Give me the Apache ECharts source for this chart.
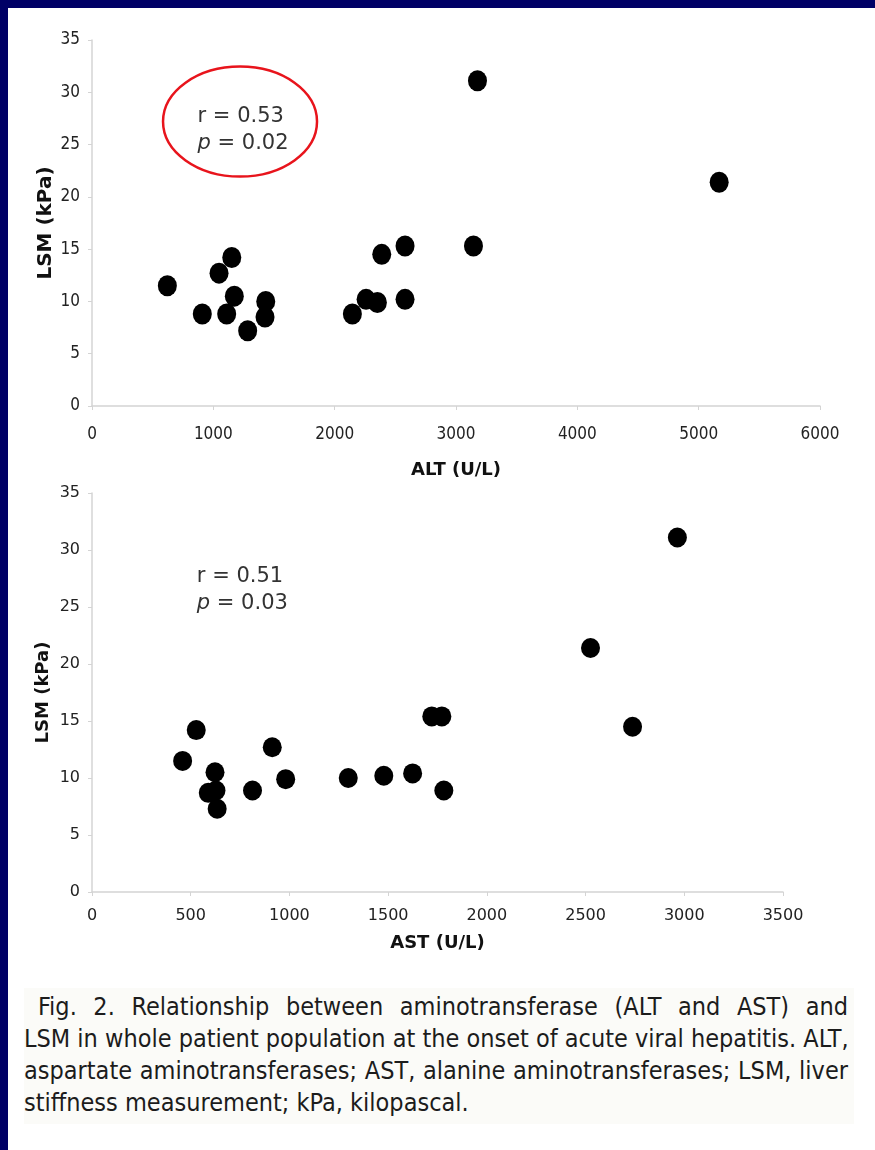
<!DOCTYPE html>
<html>
<head>
<meta charset="utf-8">
<script src="https://cdn.jsdelivr.net/npm/echarts@6/dist/echarts.min.js"></script>
<style>
  html, body { margin: 0; padding: 0; }
  body { width: 875px; height: 1150px; background: #000066; position: relative; overflow: hidden; }
  #chart { position: absolute; left: 8px; top: 8px; width: 867px; height: 1142px; background: #fff; }
  #captionBox { position: absolute; left: 24px; top: 988px; width: 830px; height: 136px; background: #fbfbf8; }
  #caption {
    position: absolute; left: 24px; top: 991px; width: 824px;
    font-family: "Liberation Sans Narrow", "DejaVu Sans Condensed", sans-serif;
    font-size: 25px; line-height: 32px; color: #1c1c1c;
  }
  #caption div { text-align: justify; text-align-last: justify; white-space: nowrap; }
  #caption div.last { text-align-last: left; }
  #caption div.first { padding-left: 14px; }
</style>
</head>
<body>
<div id="chart"></div>
<div id="captionBox"></div>
<div id="caption">
  <div class="first">Fig. 2. Relationship between aminotransferase (ALT and AST) and</div>
  <div>LSM in whole patient population at the onset of acute viral hepatitis. ALT,</div>
  <div>aspartate aminotransferases; AST, alanine aminotransferases; LSM, liver</div>
  <div class="last">stiffness measurement; kPa, kilopascal.</div>
</div>
<script>
// ALT vs LSM (top panel)
const altValues = [621, 909, 1047, 1152, 1110, 1173, 1283, 1432, 1426, 2146, 2259, 2352, 2388, 2580, 2580, 3177, 3144, 5169];
const altLsm    = [11.5, 8.8, 12.7, 14.2, 8.8, 10.5, 7.2, 10.0, 8.5, 8.8, 10.2, 9.9, 14.5, 15.3, 10.2, 31.1, 15.3, 21.4];

// AST vs LSM (bottom panel)
const astValues = [459, 528, 623, 589, 628, 634, 813, 913, 981, 1298, 1478, 1624, 1721, 1772, 1782, 2525, 2738, 2965];
const astLsm    = [11.5, 14.2, 10.5, 8.7, 8.9, 7.3, 8.9, 12.7, 9.9, 10.0, 10.2, 10.4, 15.4, 15.4, 8.9, 21.4, 14.5, 31.1];

const altStats = ['r = 0.53', '0.02'];
const astStats = ['r = 0.51', '0.03'];

let chart = echarts.init(document.getElementById('chart'));

const labelFont = 'DejaVu Sans';
// top panel is a bit stretched vertically in the figure, so use a narrower face there
const topTickStyle = { fontFamily: 'DejaVu Sans Condensed', fontSize: 17, color: '#222' };
const botTickStyle = { fontFamily: labelFont, fontSize: 16, color: '#222' };

function yAxisOpt(gridIndex, fontSize, gap, tick) {
    return {
        gridIndex: gridIndex,
        type: 'value',
        min: 0, max: 35, interval: 5,
        name: 'LSM (kPa)',
        nameLocation: 'middle',
        nameGap: gap,
        nameMoveOverlap: false,
        nameTextStyle: { fontFamily: labelFont, fontWeight: 'bold', fontSize: fontSize, color: '#111' },
        axisLine: { show: true, lineStyle: { color: '#d4d4d4', width: 1.5 } },
        axisTick: { show: true, length: 4, lineStyle: { color: '#d4d4d4' } },
        axisLabel: Object.assign({ margin: 12 }, tick),
        splitLine: { show: false }
    };
}
function xAxisOpt(gridIndex, name, max, interval, gap, margin, tick) {
    return {
        gridIndex: gridIndex,
        type: 'value',
        min: 0, max: max, interval: interval,
        name: name,
        nameLocation: 'middle',
        nameGap: gap,
        nameMoveOverlap: false,
        nameTextStyle: { fontFamily: labelFont, fontWeight: 'bold', fontSize: 18, color: '#111' },
        axisLine: { show: true, lineStyle: { color: '#d4d4d4', width: 1.5 } },
        axisTick: { show: true, length: 4, lineStyle: { color: '#d4d4d4' } },
        axisLabel: Object.assign({ margin: margin, formatter: v => String(v) }, tick),
        splitLine: { show: false }
    };
}

let option = {
    animation: false,
    grid: [
        { left: 84, top: 32, width: 728, height: 366 },
        { left: 84, top: 485, width: 691, height: 399 }
    ],
    xAxis: [
        xAxisOpt(0, 'ALT (U/L)', 6000, 1000, 55, 20, topTickStyle),
        xAxisOpt(1, 'AST (U/L)', 3500, 500, 42, 16, botTickStyle)
    ],
    yAxis: [
        yAxisOpt(0, 20, 36, topTickStyle),
        yAxisOpt(1, 18, 40, botTickStyle)
    ],
    series: [
        {
            type: 'scatter',
            xAxisIndex: 0, yAxisIndex: 0,
            symbol: 'circle',
            symbolSize: [19, 21],
            itemStyle: { color: '#000', opacity: 1 },
            data: altValues.map((v, i) => [v, altLsm[i]])
        },
        {
            type: 'scatter',
            xAxisIndex: 1, yAxisIndex: 1,
            symbol: 'circle',
            symbolSize: [19, 20],
            itemStyle: { color: '#000', opacity: 1 },
            data: astValues.map((v, i) => [v, astLsm[i]])
        }
    ]
};
chart.setOption(option);

// annotations placed in data space of each panel
function statText(c, stats) {
    return {
        type: 'text',
        left: c[0],
        top: c[1],
        style: {
            text: stats[0] + '\n{i|p} = ' + stats[1],
            rich: { i: { fontStyle: 'italic', fontFamily: labelFont, fontSize: 21, fill: '#333' } },
            font: '21px "DejaVu Sans"',
            fill: '#333',
            lineHeight: 27
        }
    };
}
let ell = chart.convertToPixel({ gridIndex: 0 }, [1220, 27.2]);
let t1 = chart.convertToPixel({ gridIndex: 0 }, [870, 29.0]);
let t2 = chart.convertToPixel({ gridIndex: 1 }, [531, 28.85]);
chart.setOption({
    graphic: [
        {
            type: 'ellipse',
            shape: { cx: ell[0], cy: ell[1], rx: 77, ry: 55 },
            style: { fill: 'none', stroke: '#e8141c', lineWidth: 2.5 }
        },
        statText(t1, altStats),
        statText(t2, astStats)
    ]
});
</script>
</body>
</html>
